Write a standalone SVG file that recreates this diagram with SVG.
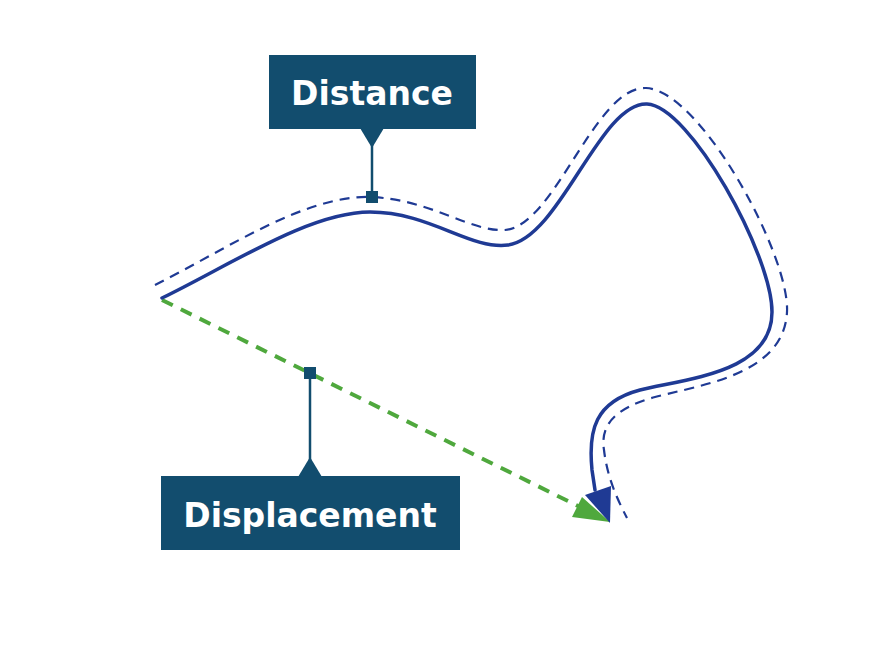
<svg xmlns="http://www.w3.org/2000/svg" width="882" height="653" viewBox="0 0 882 653">
<style>
.box{fill:#124d6e}
.lbl{font-family:"DejaVu Sans",sans-serif;font-weight:bold;font-size:33px;fill:#fff;text-anchor:middle}
.lead{stroke:#124d6e;stroke-width:2.5;fill:none}
.path{stroke:#1f3a94;stroke-width:3.5;fill:none;stroke-linecap:round}
.dpath{stroke:#1f3a94;stroke-width:2.2;fill:none;stroke-dasharray:10 7}
.disp{stroke:#4fa83d;stroke-width:4;fill:none;stroke-dasharray:12 9}
</style>
<rect width="882" height="653" fill="#fff"/>
<g id="connectors">
<path class="dpath" d="M155,285 C225,250 305,195 370,197 C430,199 470,232 505,230 C555,226 595,86 646,88 C700,90 790,255 787,312 C784,375 700,385 655,397 C615,408 600,425 604,450 C607,475 615,495 627,518"/>
<path class="disp" d="M162,300 L580,507"/>
<polygon fill="#4fa83d" points="610,522 572,517 582,497"/>
<path class="path" d="M162,298 C230,265 310,212 370,212 C430,212 470,250 508,245 C560,238 600,102 647,104 C690,106 772,255 772,312 C772,372 690,378 640,390 C595,402 588,430 592,470 L595,490"/>
<polygon fill="#1f3a94" points="610,523 585,495 611,486"/>
</g>
<g id="distance">
<rect class="box" x="269" y="55" width="207" height="74"/>
<polygon class="box" points="360,128 384,128 372,148"/>
<line class="lead" x1="372" y1="145" x2="372" y2="195"/>
<rect class="box" x="366" y="191" width="12" height="12"/>
<text class="lbl" x="372" y="105">Distance</text>
</g>
<g id="displacement">
<rect class="box" x="161" y="476" width="299" height="74"/>
<polygon class="box" points="298,477 322,477 310,457"/>
<line class="lead" x1="310" y1="375" x2="310" y2="460"/>
<rect class="box" x="304" y="367" width="12" height="12"/>
<text class="lbl" x="310" y="527">Displacement</text>
</g>
</svg>
